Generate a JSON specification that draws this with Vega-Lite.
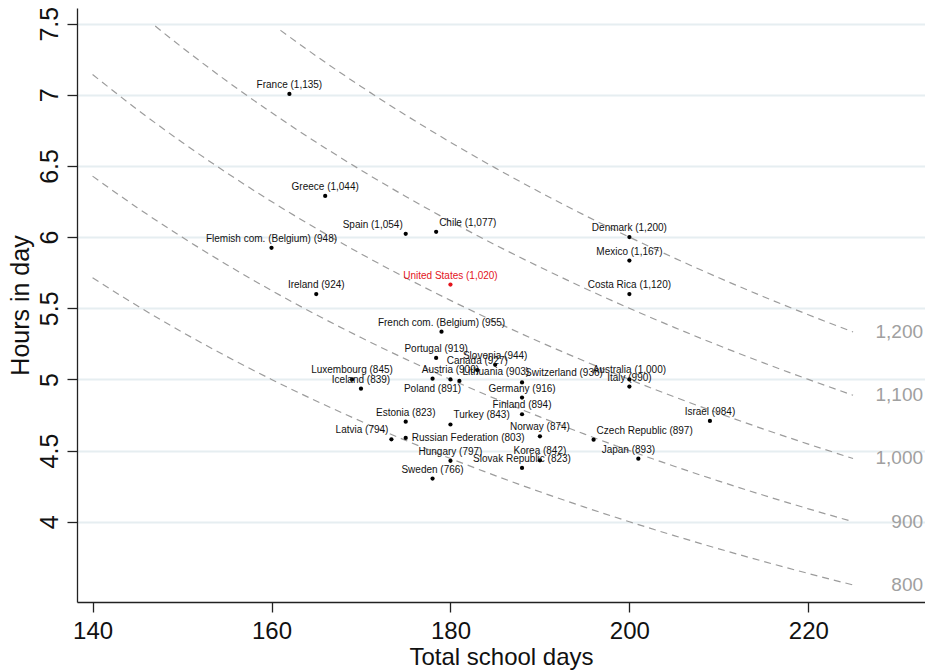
{
  "$schema": "https://vega.github.io/schema/vega-lite/v6.json",
  "width": 848,
  "height": 594,
  "autosize": {"type": "none"},
  "padding": {"left": 77, "top": 8, "right": 0, "bottom": 70},
  "background": "white",
  "config": {"view": {"stroke": null}},
  "datasets": {
    "countries": [
      {"country": "France", "label": "France (1,135)", "days": 162, "hours": 7.0062},
      {"country": "Greece", "label": "Greece (1,044)", "days": 166, "hours": 6.2892},
      {"country": "Spain", "label": "Spain (1,054)", "days": 175, "hours": 6.0229},
      {"country": "Chile", "label": "Chile (1,077)", "days": 178.4, "hours": 6.037},
      {"country": "Flemish com. (Belgium)", "label": "Flemish com. (Belgium) (948)", "days": 160, "hours": 5.925},
      {"country": "United States", "label": "United States (1,020)", "days": 180, "hours": 5.6667},
      {"country": "Ireland", "label": "Ireland (924)", "days": 165, "hours": 5.6},
      {"country": "Denmark", "label": "Denmark (1,200)", "days": 200, "hours": 6.0},
      {"country": "Mexico", "label": "Mexico (1,167)", "days": 200, "hours": 5.835},
      {"country": "Costa Rica", "label": "Costa Rica (1,120)", "days": 200, "hours": 5.6},
      {"country": "French com. (Belgium)", "label": "French com. (Belgium) (955)", "days": 179, "hours": 5.3352},
      {"country": "Portugal", "label": "Portugal (919)", "days": 178.4, "hours": 5.1513},
      {"country": "Slovenia", "label": "Slovenia (944)", "days": 185, "hours": 5.1027},
      {"country": "Canada", "label": "Canada (927)", "days": 183, "hours": 5.0656},
      {"country": "Austria", "label": "Austria (900)", "days": 180, "hours": 5.0},
      {"country": "Lithuania", "label": "Lithuania (903)", "days": 181, "hours": 4.989},
      {"country": "Poland", "label": "Poland (891)", "days": 178, "hours": 5.0056},
      {"country": "Luxembourg", "label": "Luxembourg (845)", "days": 169, "hours": 5.0},
      {"country": "Iceland", "label": "Iceland (839)", "days": 170, "hours": 4.9353},
      {"country": "Switzerland", "label": "Switzerland (936)", "days": 188, "hours": 4.9787},
      {"country": "Germany", "label": "Germany (916)", "days": 188, "hours": 4.8723},
      {"country": "Finland", "label": "Finland (894)", "days": 188, "hours": 4.7553},
      {"country": "Estonia", "label": "Estonia (823)", "days": 175, "hours": 4.7029},
      {"country": "Turkey", "label": "Turkey (843)", "days": 180, "hours": 4.6833},
      {"country": "Latvia", "label": "Latvia (794)", "days": 173.4, "hours": 4.579},
      {"country": "Russian Federation", "label": "Russian Federation (803)", "days": 175, "hours": 4.5886},
      {"country": "Norway", "label": "Norway (874)", "days": 190, "hours": 4.6},
      {"country": "Hungary", "label": "Hungary (797)", "days": 180, "hours": 4.4278},
      {"country": "Korea", "label": "Korea (842)", "days": 190, "hours": 4.4316},
      {"country": "Slovak Republic", "label": "Slovak Republic (823)", "days": 188, "hours": 4.3777},
      {"country": "Sweden", "label": "Sweden (766)", "days": 178, "hours": 4.3034},
      {"country": "Australia", "label": "Australia (1,000)", "days": 200, "hours": 5.0},
      {"country": "Italy", "label": "Italy (990)", "days": 200, "hours": 4.95},
      {"country": "Israel", "label": "Israel (984)", "days": 209, "hours": 4.7081},
      {"country": "Czech Republic", "label": "Czech Republic (897)", "days": 196, "hours": 4.5765},
      {"country": "Japan", "label": "Japan (893)", "days": 201, "hours": 4.4428}
    ],
    "curves": [
      {"total": 800, "days": 140, "hours": 5.7143}, {"total": 800, "days": 145, "hours": 5.5172}, {"total": 800, "days": 150, "hours": 5.3333}, {"total": 800, "days": 155, "hours": 5.1613}, {"total": 800, "days": 160, "hours": 5.0}, {"total": 800, "days": 165, "hours": 4.8485}, {"total": 800, "days": 170, "hours": 4.7059}, {"total": 800, "days": 175, "hours": 4.5714}, {"total": 800, "days": 180, "hours": 4.4444}, {"total": 800, "days": 185, "hours": 4.3243}, {"total": 800, "days": 190, "hours": 4.2105}, {"total": 800, "days": 195, "hours": 4.1026}, {"total": 800, "days": 200, "hours": 4.0}, {"total": 800, "days": 205, "hours": 3.9024}, {"total": 800, "days": 210, "hours": 3.8095}, {"total": 800, "days": 215, "hours": 3.7209}, {"total": 800, "days": 220, "hours": 3.6364}, {"total": 800, "days": 225, "hours": 3.5556},
      {"total": 900, "days": 140, "hours": 6.4286}, {"total": 900, "days": 145, "hours": 6.2069}, {"total": 900, "days": 150, "hours": 6.0}, {"total": 900, "days": 155, "hours": 5.8065}, {"total": 900, "days": 160, "hours": 5.625}, {"total": 900, "days": 165, "hours": 5.4545}, {"total": 900, "days": 170, "hours": 5.2941}, {"total": 900, "days": 175, "hours": 5.1429}, {"total": 900, "days": 180, "hours": 5.0}, {"total": 900, "days": 185, "hours": 4.8649}, {"total": 900, "days": 190, "hours": 4.7368}, {"total": 900, "days": 195, "hours": 4.6154}, {"total": 900, "days": 200, "hours": 4.5}, {"total": 900, "days": 205, "hours": 4.3902}, {"total": 900, "days": 210, "hours": 4.2857}, {"total": 900, "days": 215, "hours": 4.186}, {"total": 900, "days": 220, "hours": 4.0909}, {"total": 900, "days": 225, "hours": 4.0},
      {"total": 1000, "days": 140, "hours": 7.1429}, {"total": 1000, "days": 145, "hours": 6.8966}, {"total": 1000, "days": 150, "hours": 6.6667}, {"total": 1000, "days": 155, "hours": 6.4516}, {"total": 1000, "days": 160, "hours": 6.25}, {"total": 1000, "days": 165, "hours": 6.0606}, {"total": 1000, "days": 170, "hours": 5.8824}, {"total": 1000, "days": 175, "hours": 5.7143}, {"total": 1000, "days": 180, "hours": 5.5556}, {"total": 1000, "days": 185, "hours": 5.4054}, {"total": 1000, "days": 190, "hours": 5.2632}, {"total": 1000, "days": 195, "hours": 5.1282}, {"total": 1000, "days": 200, "hours": 5.0}, {"total": 1000, "days": 205, "hours": 4.878}, {"total": 1000, "days": 210, "hours": 4.7619}, {"total": 1000, "days": 215, "hours": 4.6512}, {"total": 1000, "days": 220, "hours": 4.5455}, {"total": 1000, "days": 225, "hours": 4.4444},
      {"total": 1100, "days": 147, "hours": 7.483}, {"total": 1100, "days": 150, "hours": 7.3333}, {"total": 1100, "days": 155, "hours": 7.0968}, {"total": 1100, "days": 160, "hours": 6.875}, {"total": 1100, "days": 165, "hours": 6.6667}, {"total": 1100, "days": 170, "hours": 6.4706}, {"total": 1100, "days": 175, "hours": 6.2857}, {"total": 1100, "days": 180, "hours": 6.1111}, {"total": 1100, "days": 185, "hours": 5.9459}, {"total": 1100, "days": 190, "hours": 5.7895}, {"total": 1100, "days": 195, "hours": 5.641}, {"total": 1100, "days": 200, "hours": 5.5}, {"total": 1100, "days": 205, "hours": 5.3659}, {"total": 1100, "days": 210, "hours": 5.2381}, {"total": 1100, "days": 215, "hours": 5.1163}, {"total": 1100, "days": 220, "hours": 5.0}, {"total": 1100, "days": 225, "hours": 4.8889},
      {"total": 1200, "days": 161, "hours": 7.4534}, {"total": 1200, "days": 165, "hours": 7.2727}, {"total": 1200, "days": 170, "hours": 7.0588}, {"total": 1200, "days": 175, "hours": 6.8571}, {"total": 1200, "days": 180, "hours": 6.6667}, {"total": 1200, "days": 185, "hours": 6.4865}, {"total": 1200, "days": 190, "hours": 6.3158}, {"total": 1200, "days": 195, "hours": 6.1538}, {"total": 1200, "days": 200, "hours": 6.0}, {"total": 1200, "days": 205, "hours": 5.8537}, {"total": 1200, "days": 210, "hours": 5.7143}, {"total": 1200, "days": 215, "hours": 5.5814}, {"total": 1200, "days": 220, "hours": 5.4545}, {"total": 1200, "days": 225, "hours": 5.3333}
    ]
  },
  "encoding": {
    "x": {
      "field": "days", "type": "quantitative",
      "scale": {"domain": [138.26, 233.04], "nice": false, "zero": false},
      "axis": {
        "values": [140, 160, 180, 200, 220], "format": "d", "grid": false,
        "title": "Total school days", "titleFont": "Liberation Sans", "titleFontSize": 24, "titleFontWeight": "normal", "titleColor": "#111", "titlePadding": 2,
        "labelFont": "Liberation Sans", "labelFontSize": 24, "labelColor": "#111", "labelPadding": 7, "labelFlush": false, "labelOverlap": false,
        "tickSize": 10, "tickColor": "#222", "tickWidth": 1.3, "domainColor": "#222", "domainWidth": 1.3
      }
    },
    "y": {
      "field": "hours", "type": "quantitative",
      "scale": {"domain": [3.436, 7.61], "nice": false, "zero": false},
      "axis": {
        "values": [4, 4.5, 5, 5.5, 6, 6.5, 7, 7.5], "format": "~g",
        "grid": true, "gridColor": "#e6eef1", "gridWidth": 2,
        "title": "Hours in day", "titleFont": "Liberation Sans", "titleFontSize": 25, "titleFontWeight": "normal", "titleColor": "#111", "titlePadding": 4,
        "labelFont": "Liberation Sans", "labelFontSize": 25, "labelColor": "#111", "labelAngle": 270, "labelAlign": "center", "labelBaseline": "bottom", "labelPadding": 5, "labelFlush": false, "labelOverlap": false,
        "tickSize": 10, "tickColor": "#222", "tickWidth": 1.3, "domainColor": "#222", "domainWidth": 1.3
      }
    }
  },
  "layer": [
    {
      "data": {"name": "curves"},
      "mark": {"type": "line", "color": "#9c9c9c", "strokeWidth": 1.2, "strokeDash": [7, 5], "interpolate": "monotone"},
      "encoding": {"detail": {"field": "total", "type": "nominal"}}
    },
    {
      "data": {"name": "curves"},
      "transform": [{"filter": "datum.days == 225"}],
      "mark": {"type": "text", "align": "right", "baseline": "middle", "dx": 70, "font": "Liberation Sans", "fontSize": 19, "color": "#a0a0a0"},
      "encoding": {"text": {"field": "total", "type": "quantitative", "format": ","}}
    },
    {
      "data": {"name": "countries"},
      "mark": {"type": "circle", "size": 18, "opacity": 1},
      "encoding": {
        "color": {"condition": {"test": "datum.country === 'United States'", "value": "#e3141c"}, "value": "#000000"}
      }
    },
    {
      "data": {"name": "countries"},
      "transform": [{"filter": "indexof(['Lithuania','Switzerland','Turkey','Czech Republic','Chile','Latvia','Spain','Poland','Russian Federation','Japan'], datum.country) < 0"}],
      "mark": {"type": "text", "align": "center", "baseline": "bottom", "dy": -4, "font": "Liberation Sans", "fontSize": 10},
      "encoding": {
        "text": {"field": "label"},
        "color": {"condition": {"test": "datum.country === 'United States'", "value": "#e3141c"}, "value": "#111111"}
      }
    },
    {
      "data": {"name": "countries"},
      "transform": [{"filter": "indexof(['Lithuania','Switzerland','Turkey','Czech Republic','Chile'], datum.country) >= 0"}],
      "mark": {"type": "text", "align": "left", "baseline": "bottom", "dx": 3, "dy": -4, "font": "Liberation Sans", "fontSize": 10, "color": "#111111"},
      "encoding": {"text": {"field": "label"}}
    },
    {
      "data": {"name": "countries"},
      "transform": [{"filter": "indexof(['Latvia','Spain'], datum.country) >= 0"}],
      "mark": {"type": "text", "align": "right", "baseline": "bottom", "dx": -3, "dy": -4, "font": "Liberation Sans", "fontSize": 10, "color": "#111111"},
      "encoding": {"text": {"field": "label"}}
    },
    {
      "data": {"name": "countries"},
      "transform": [{"filter": "datum.country === 'Poland'"}],
      "mark": {"type": "text", "align": "center", "baseline": "top", "dy": 5, "font": "Liberation Sans", "fontSize": 10, "color": "#111111"},
      "encoding": {"text": {"field": "label"}}
    },
    {
      "data": {"name": "countries"},
      "transform": [{"filter": "datum.country === 'Russian Federation'"}],
      "mark": {"type": "text", "align": "left", "baseline": "middle", "dx": 6, "font": "Liberation Sans", "fontSize": 10, "color": "#111111"},
      "encoding": {"text": {"field": "label"}}
    },
    {
      "data": {"name": "countries"},
      "transform": [{"filter": "datum.country === 'Japan'"}],
      "mark": {"type": "text", "align": "center", "baseline": "bottom", "dx": -10, "dy": -4, "font": "Liberation Sans", "fontSize": 10, "color": "#111111"},
      "encoding": {"text": {"field": "label"}}
    }
  ]
}
